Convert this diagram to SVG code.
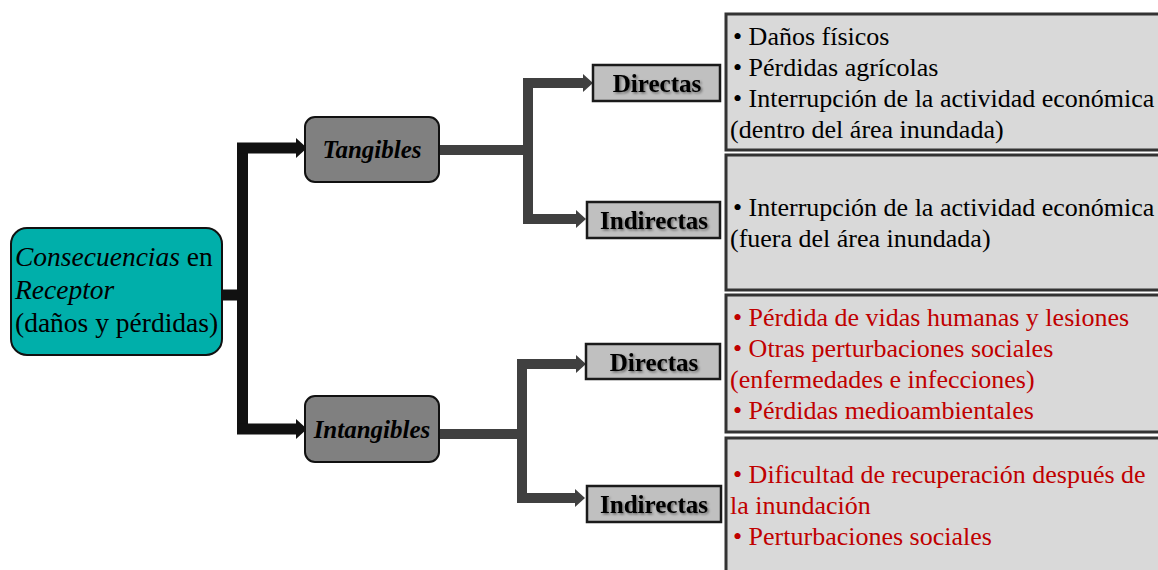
<svg xmlns="http://www.w3.org/2000/svg" width="1158" height="570" viewBox="0 0 1158 570">
<defs>
<style>
.root{fill:#00AFAA;stroke:#111;stroke-width:2}
.mid{fill:#808080;stroke:#111;stroke-width:2}
.lab{fill:#C0C0C0;stroke:#1a1a1a;stroke-width:2.5}
.det{fill:#D9D9D9;stroke:#333;stroke-width:3}
.t{font-family:"Liberation Serif","Times New Roman",serif;fill:#000}
.ti{font-size:27.5px}
.mt{font-size:25px;font-weight:bold;font-style:italic;text-anchor:middle}
.lt{font-size:25px;font-weight:bold;text-anchor:middle}
.dt{font-size:26px}
.red{fill:#C00000}
.cb{fill:none;stroke:#111;stroke-width:11}
.cg{fill:none;stroke:#404040;stroke-width:10}
</style>
<filter id="sh" x="-10%" y="-20%" width="130%" height="150%">
<feDropShadow dx="1.5" dy="1.5" stdDeviation="1" flood-color="#000" flood-opacity="0.45"/>
</filter>
<marker id="ab" markerUnits="userSpaceOnUse" markerWidth="12" markerHeight="22" refX="0" refY="11" orient="auto">
<path d="M0,1 L11,11 L0,21 Z" fill="#111"/>
</marker>
<marker id="ag" markerUnits="userSpaceOnUse" markerWidth="12" markerHeight="20" refX="0" refY="10" orient="auto">
<path d="M0,1 L10,10 L0,19 Z" fill="#404040"/>
</marker>
</defs>
<g id="connectors">
<path class="cb" d="M222,295 H243 M242.5,143 V434"/>
<path class="cb" d="M237,148 H296" marker-end="url(#ab)"/>
<path class="cb" d="M237,429 H296" marker-end="url(#ab)"/>
<path class="cg" d="M439,150 H528 M528,78 V224"/>
<path class="cg" d="M523,83 H583" marker-end="url(#ag)"/>
<path class="cg" d="M523,219 H576" marker-end="url(#ag)"/>
<path class="cg" d="M439,434 H522 M522,359 V503"/>
<path class="cg" d="M517,364 H576" marker-end="url(#ag)"/>
<path class="cg" d="M517,498 H575" marker-end="url(#ag)"/>
</g>
<g id="root">
<rect class="root" x="11" y="228" width="211" height="127" rx="16"/>
<text class="t ti" x="15" y="266"><tspan font-style="italic">Consecuencias</tspan> en</text>
<text class="t ti" x="15" y="299" font-style="italic">Receptor</text>
<text class="t ti" x="15" y="332">(daños y pérdidas)</text>
</g>
<g id="tangibles">
<rect class="mid" x="305" y="117" width="134" height="65" rx="10"/>
<text class="t mt" x="372" y="158">Tangibles</text>
</g>
<g id="intangibles">
<rect class="mid" x="305" y="396" width="134" height="66" rx="10"/>
<text class="t mt" x="372" y="438">Intangibles</text>
</g>
<g id="t-directas">
<rect class="lab" x="593" y="65" width="127" height="36"/>
<text class="t lt" x="657" y="92" filter="url(#sh)">Directas</text>
</g>
<g id="t-indirectas">
<rect class="lab" x="587" y="202" width="133" height="36"/>
<text class="t lt" x="654" y="229" filter="url(#sh)">Indirectas</text>
</g>
<g id="i-directas">
<rect class="lab" x="586" y="344" width="134" height="35"/>
<text class="t lt" x="654" y="371" filter="url(#sh)">Directas</text>
</g>
<g id="i-indirectas">
<rect class="lab" x="587" y="486" width="134" height="36"/>
<text class="t lt" x="654" y="513" filter="url(#sh)">Indirectas</text>
</g>
<g id="t-directas-detail">
<rect class="det" x="726" y="14" width="440" height="136"/>
<text class="t dt" x="733" y="45">• Daños físicos</text>
<text class="t dt" x="733" y="76">• Pérdidas agrícolas</text>
<text class="t dt" x="733" y="107">• Interrupción de la actividad económica</text>
<text class="t dt" x="730" y="138">(dentro del área inundada)</text>
</g>
<g id="t-indirectas-detail">
<rect class="det" x="726" y="155" width="440" height="135"/>
<text class="t dt" x="733" y="216">• Interrupción de la actividad económica</text>
<text class="t dt" x="730" y="247">(fuera del área inundada)</text>
</g>
<g id="i-directas-detail">
<rect class="det" x="726" y="295" width="440" height="137"/>
<text class="t dt red" x="733" y="326">• Pérdida de vidas humanas y lesiones</text>
<text class="t dt red" x="733" y="357">• Otras perturbaciones sociales</text>
<text class="t dt red" x="730" y="388">(enfermedades e infecciones)</text>
<text class="t dt red" x="733" y="419">• Pérdidas medioambientales</text>
</g>
<g id="i-indirectas-detail">
<rect class="det" x="726" y="438" width="440" height="140"/>
<text class="t dt red" x="733" y="483">• Dificultad de recuperación después de</text>
<text class="t dt red" x="730" y="514">la inundación</text>
<text class="t dt red" x="733" y="545">• Perturbaciones sociales</text>
</g>
</svg>
